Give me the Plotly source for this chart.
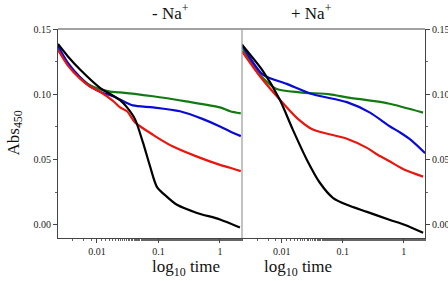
import plotly.graph_objects as go

# ---------- data (time in s, Abs450) ----------
# Left panel: - Na+
L_black_t = [0.00232, 0.00337, 0.0053, 0.0112, 0.0182, 0.0237, 0.0308, 0.0415, 0.056, 0.0728, 0.0946, 0.1375, 0.200, 0.423, 1.0, 2.11]
L_black_y = [0.1385, 0.129, 0.119, 0.105, 0.099, 0.0955, 0.090, 0.081, 0.063, 0.045, 0.029, 0.0215, 0.0154, 0.0092, 0.0042, -0.002]

L_red_t = [0.00232, 0.00337, 0.0053, 0.00769, 0.0112, 0.0182, 0.0237, 0.0308, 0.0415, 0.0815, 0.172, 0.423, 1.0, 1.46, 2.18]
L_red_y = [0.134, 0.122, 0.112, 0.106, 0.102, 0.095, 0.090, 0.087, 0.0785, 0.069, 0.060, 0.0523, 0.046, 0.0438, 0.0412]

L_blue_t = [0.00232, 0.00337, 0.0053, 0.00769, 0.0112, 0.0182, 0.0237, 0.0385, 0.0815, 0.224, 0.53, 1.0, 1.46, 2.18]
L_blue_y = [0.137, 0.124, 0.113, 0.106, 0.102, 0.0985, 0.096, 0.0915, 0.090, 0.087, 0.081, 0.0754, 0.0715, 0.068]

L_green_t = [0.00232, 0.00337, 0.0053, 0.00769, 0.0112, 0.0163, 0.0237, 0.0815, 0.28, 1.0, 1.46, 2.18]
L_green_y = [0.1346, 0.123, 0.113, 0.107, 0.104, 0.102, 0.1015, 0.0985, 0.0946, 0.090, 0.087, 0.0854]

# Right panel: + Na+
R_black_t = [0.00223, 0.0049, 0.00927, 0.0152, 0.0258, 0.0422, 0.069, 0.117, 0.250, 0.597, 1.055, 2.08]
R_black_y = [0.138, 0.118, 0.096, 0.073, 0.050, 0.0323, 0.0208, 0.0154, 0.010, 0.0038, 0.0, -0.006]

R_red_t = [0.00223, 0.00437, 0.00927, 0.01766, 0.0324, 0.117, 0.250, 0.38, 0.597, 1.055, 2.08]
R_red_y = [0.133, 0.114, 0.096, 0.082, 0.073, 0.066, 0.059, 0.0535, 0.0485, 0.042, 0.037]

R_blue_t = [0.00223, 0.0049, 0.0121, 0.0324, 0.117, 0.280, 0.597, 0.873, 1.32, 2.25]
R_blue_y = [0.138, 0.115, 0.108, 0.100, 0.094, 0.086, 0.0754, 0.0708, 0.065, 0.055]

R_green_t = [0.00223, 0.00437, 0.00828, 0.0198, 0.0616, 0.117, 0.56, 2.08]
R_green_y = [0.136, 0.115, 0.104, 0.1015, 0.100, 0.0977, 0.093, 0.086]

x_tickvals = [0.01, 0.1, 1]
x_ticktext = ["0.01", "0.1", "1"]
y_tickvals = [0.0, 0.05, 0.10, 0.15]
y_ticktext = ["0.00", "0.05", "0.10", "0.15"]

BLACK = "#000000"
RED = "#e8160f"
BLUE = "#0a0ad8"
GREEN = "#127a12"

fig = go.Figure()

def add(t, y, color, xa, ya):
    fig.add_trace(go.Scatter(x=t, y=y, mode="lines", line=dict(color=color, width=2.2, shape="spline", smoothing=0.7),
                             xaxis=xa, yaxis=ya, showlegend=False, hoverinfo="skip"))

add(L_green_t, L_green_y, GREEN, "x", "y")
add(L_blue_t, L_blue_y, BLUE, "x", "y")
add(L_red_t, L_red_y, RED, "x", "y")
add(L_black_t, L_black_y, BLACK, "x", "y")
add(R_green_t, R_green_y, GREEN, "x2", "y2")
add(R_blue_t, R_blue_y, BLUE, "x2", "y2")
add(R_red_t, R_red_y, RED, "x2", "y2")
add(R_black_t, R_black_y, BLACK, "x2", "y2")

FONT = "Liberation Serif"
split = (242 - 58) / (425 - 58)

tickfont = dict(family=FONT, size=10, color="#222")
xcommon = dict(type="log", showgrid=False, zeroline=False, showline=True, linecolor="#444", linewidth=1,
               mirror=False, ticks="outside", ticklen=4, tickcolor="#444", tickvals=x_tickvals, ticktext=x_ticktext,
               tickfont=tickfont,
               minor=dict(ticks="outside", ticklen=2, tickcolor="#666", showgrid=False))
ycommon = dict(range=[-0.01, 0.15], showgrid=False, zeroline=False, showline=True, linecolor="#444", linewidth=1,
               ticks="outside", ticklen=4, tickcolor="#444", tickvals=y_tickvals, ticktext=y_ticktext,
               tickfont=tickfont,
               minor=dict(tickvals=[0.025, 0.075, 0.125], ticks="outside", ticklen=2, tickcolor="#666", showgrid=False))

fig.update_layout(
    width=448, height=281,
    margin=dict(l=58, r=23, t=29, b=43, autoexpand=False),
    paper_bgcolor="white", plot_bgcolor="white",
    xaxis=dict(domain=[0, split], range=[-2.634, 0.358], anchor="y", **xcommon),
    xaxis2=dict(domain=[split, 1], range=[-2.651, 0.349], anchor="y2", **xcommon),
    yaxis=dict(domain=[0, 1], anchor="x", side="left", **ycommon),
    yaxis2=dict(domain=[0, 1], anchor="x2", side="right", **ycommon),
    shapes=[
        dict(type="line", xref="paper", yref="paper", x0=0, x1=1, y0=1, y1=1, line=dict(color="#444", width=1)),
        dict(type="line", xref="paper", yref="paper", x0=split, x1=split, y0=0, y1=1, line=dict(color="#999", width=1.2)),
    ],
    annotations=[
        dict(text="- Na<sup>+</sup>", xref="paper", yref="paper", x=split / 2, y=1, yshift=4, yanchor="bottom",
             showarrow=False, font=dict(family=FONT, size=17, color="#111")),
        dict(text="+ Na<sup>+</sup>", xref="paper", yref="paper", x=(split + 1) / 2, y=1, yshift=4, yanchor="bottom",
             showarrow=False, font=dict(family=FONT, size=17, color="#111")),
        dict(text="log<sub>10</sub> time", xref="paper", yref="paper", x=split / 2, y=0, yshift=-17, yanchor="top",
             showarrow=False, font=dict(family=FONT, size=17, color="#111")),
        dict(text="log<sub>10</sub> time", xref="paper", yref="paper", x=(split + 1) / 2, y=0, yshift=-17, yanchor="top",
             showarrow=False, font=dict(family=FONT, size=17, color="#111")),
        dict(text="Abs<sub>450</sub>", xref="paper", yref="paper", x=0, xshift=-44, y=0.5, textangle=-90,
             xanchor="center", yanchor="middle",
             showarrow=False, font=dict(family=FONT, size=17, color="#111")),
    ],
)

fig.write_html("out.html", config={"displayModeBar": False, "staticPlot": True},
               post_script="document.body.style.margin='0';document.body.style.overflow='hidden';")
